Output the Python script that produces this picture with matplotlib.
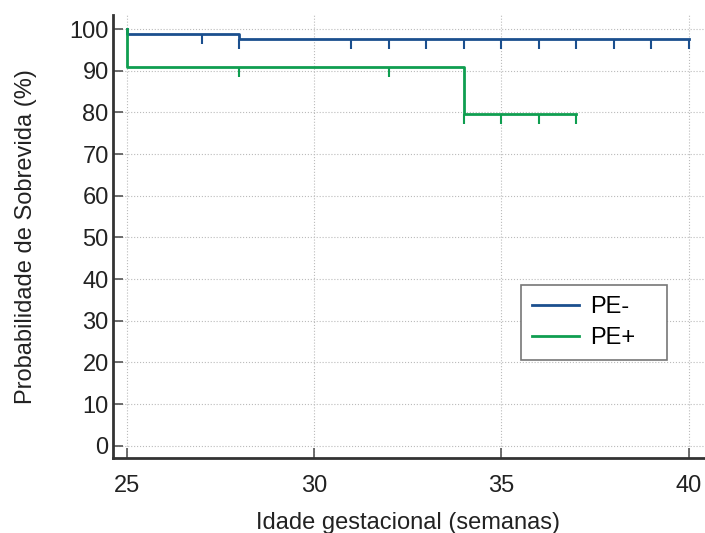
import numpy as np
import matplotlib.pyplot as plt

plt.rcParams['font.family'] = ['Liberation Sans', 'DejaVu Sans']

# Kaplan-Meier steps
blue_t = [25, 25, 28, 40]
blue_s = [100, 98.8, 97.6, 97.6]
blue_cens = [27, 28, 31, 32, 33, 34, 35, 36, 37, 38, 39, 40]

green_t = [25, 25, 34, 37]
green_s = [100, 90.9, 79.6, 79.6]
green_cens = [28, 32, 34, 35, 36, 37]

x_ticks = [25, 30, 35, 40]
y_ticks = list(range(0, 101, 10))

blue_c = '#1b4f8e'
green_c = '#0f9e50'


def surv_at(times, surv, t):
    # right-continuous step lookup
    val = surv[0]
    for ti, si in zip(times, surv):
        if ti <= t:
            val = si
    return val


fig = plt.figure(figsize=(7.05, 5.33), dpi=100)
ax = fig.add_axes([0.160, 0.141, 0.838, 0.831])

ax.plot(blue_t, blue_s, drawstyle='steps-post', color=blue_c, lw=2, label='PE-')
ax.plot(green_t, green_s, drawstyle='steps-post', color=green_c, lw=2, label='PE+')

ax.plot(blue_cens, [surv_at(blue_t, blue_s, t) for t in blue_cens], ls='none',
        marker=3, markersize=7, mew=1.5, color=blue_c)
ax.plot(green_cens, [surv_at(green_t, green_s, t) for t in green_cens], ls='none',
        marker=3, markersize=7, mew=1.5, color=green_c)

ax.set_xlim(24.63, 40.4)
ax.set_ylim(-2.9, 103.4)
ax.set_xticks(x_ticks)
ax.set_yticks(y_ticks)
ax.tick_params(direction='in', length=7, width=1.2, color='#555555',
               labelsize=17, labelcolor='#222222')
ax.tick_params(axis='x', pad=12)
ax.tick_params(axis='y', pad=3)
ax.grid(True, linestyle=':', color='#bbbbbb', linewidth=0.8)

for s in ['top', 'right']:
    ax.spines[s].set_visible(False)
for s in ['left', 'bottom']:
    ax.spines[s].set_linewidth(2)
    ax.spines[s].set_color('#333333')

ax.set_xlabel('Idade gestacional (semanas)', fontsize=17, color='#222222', labelpad=11)
ax.set_ylabel('Probabilidade de Sobrevida (%)', fontsize=17, color='#222222', labelpad=23)

leg = ax.legend(loc='lower left', bbox_to_anchor=(0.691, 0.221, 0.2466, 0.17),
                mode='expand', fontsize=17,
                fancybox=False, edgecolor='#777777', framealpha=1,
                handlelength=2.0, handletextpad=0.47, labelspacing=0.4,
                borderpad=0.45, borderaxespad=0)
leg.get_frame().set_linewidth(1.2)

plt.savefig('out.png', dpi=100)
